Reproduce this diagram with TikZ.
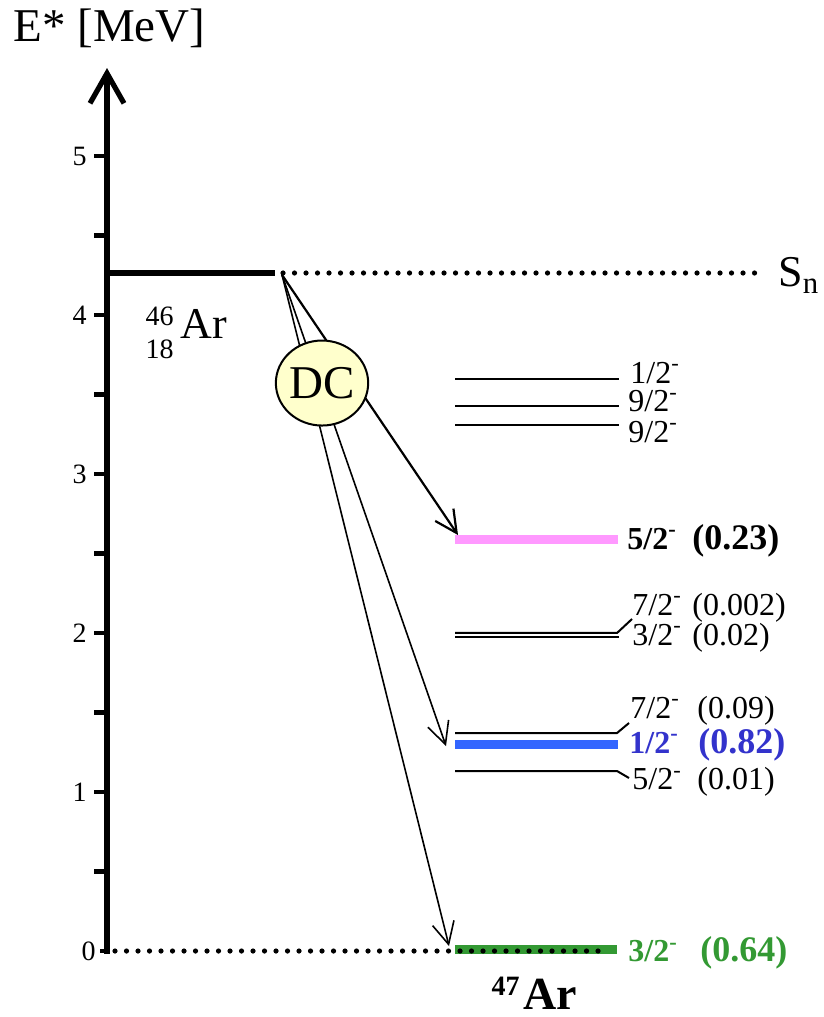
\documentclass[tikz,border=0pt]{standalone}
\usepackage{fontspec}
\setmainfont{Liberation Serif}
\usetikzlibrary{arrows.meta,positioning,shapes.geometric}
\definecolor{levelPink}{RGB}{255, 153, 255}
\definecolor{levelBlue}{RGB}{51, 102, 255}
\definecolor{labelBlue}{RGB}{51, 51, 204}
\definecolor{levelGreen}{RGB}{51, 153, 51}
\definecolor{dcYellow}{RGB}{255, 255, 204}

\begin{document}
\begin{tikzpicture}[
  x=0.5pt, y=79.5pt,
  axis/.style={line width=2.6pt, -{Straight Barb[length=15pt,width=17pt]}},
  tick/.style={line width=2.4pt},
  ticklab/.style={anchor=east, inner sep=0pt, font=\fontsize{14}{17}\selectfont},
  level/.style={line width=1pt},
  fatlevel/.style={line width=4.5pt},
  dotline/.style={line width=2.6pt, line cap=round, dash pattern=on 0pt off 5.75pt},
  decay/.style={line width=0.8pt, -{Straight Barb[length=11pt,width=11pt]}},
  spin/.style={anchor=base west, inner sep=0pt, font=\fontsize{16}{19}\selectfont},
  boldspin/.style={spin, font=\fontsize{16}{19}\selectfont\bfseries},
  boldval/.style={spin, font=\fontsize{18}{21}\selectfont\bfseries},
  nuc/.style={anchor=base west, inner sep=0pt, font=\fontsize{22}{26}\selectfont},
  iso/.style={inner sep=0pt, font=\fontsize{14}{17}\selectfont},
  dc/.style={ellipse, draw, line width=1pt, fill=dcYellow, minimum width=46pt,
    minimum height=42.5pt, inner sep=0pt, font=\fontsize{23.5}{28}\selectfont}
]
  \useasboundingbox (0,-0.415) rectangle (823,5.981);

  % energy axis
  \node[nuc, font=\fontsize{23.5}{28}\selectfont] (title) at (13,5.717) {E* [MeV]};
  \draw[axis] (107,-0.016) -- (107,5.553);
  \foreach \e in {1,...,5} {
    \draw[tick] (94,\e) -- (107,\e);
    \node[ticklab] (tick\e) at (87,\e) {\e};
  }
  \foreach \e in {0.5,1.5,...,4.5}
    \draw[tick] (94,\e) -- (107,\e);
  \draw[tick] (100,0) -- (107,0);
  \node[ticklab] (tick0) at (96,0) {0};

  % 46Ar and neutron threshold
  \draw[line width=2.6pt] (107,4.264) -- (275,4.264);
  \draw[dotline] (283,4.264) -- (760,4.264);
  \node[nuc] (sn) at (778,4.176) {S\textsubscript{n}};
  \node[nuc] (ar46) at (180,3.855) {Ar};
  \node[iso, base left=3pt of ar46, yshift=6.5pt] (a46) {46};
  \node[iso, base left=3pt of ar46, yshift=-10pt] (z18) {18};

  % 47Ar levels
  \draw[level] (455,3.597) -- (619,3.597);
  \draw[level] (455,3.428) -- (619,3.428);
  \draw[level] (455,3.308) -- (619,3.308);
  \draw[fatlevel, levelPink] (455,2.591) -- (618,2.591);
  \draw[level] (455,2.000) -- (617,2.000) -- (632,2.088);
  \draw[level] (455,1.975) -- (619,1.975);
  \draw[level] (455,1.371) -- (617,1.371) -- (629,1.434);
  \draw[fatlevel, levelBlue] (455,1.296) -- (618,1.296);
  \draw[level] (455,1.132) -- (617,1.132) -- (629,1.088);
  \draw[fatlevel, levelGreen] (455,0.008) -- (617,0.008);
  \draw[dotline] (115,0) -- (603,0);

  \node[spin] (s12c) at (630,3.572) {1/2\textsuperscript{-}};
  \node[spin] (s92b) at (628,3.390) {9/2\textsuperscript{-}};
  \node[spin] (s92a) at (628,3.201) {9/2\textsuperscript{-}};
  \node[boldspin] (s52b) at (627,2.525) {5/2\textsuperscript{-}};
  \node[boldval] (v52b) at (692,2.525) {(0.23)};
  \node[spin] (s72b) at (632,2.113) {7/2\textsuperscript{-}};
  \node[spin] (v72b) at (692,2.113) {(0.002)};
  \node[spin] (s32b) at (632,1.922) {3/2\textsuperscript{-}};
  \node[spin] (v32b) at (692,1.922) {(0.02)};
  \node[spin] (s72a) at (630,1.465) {7/2\textsuperscript{-}};
  \node[spin] (v72a) at (697,1.465) {(0.09)};
  \node[boldspin, labelBlue] (s12b) at (629,1.245) {1/2\textsuperscript{-}};
  \node[boldval, labelBlue] (v12b) at (698,1.245) {(0.82)};
  \node[spin] (s52a) at (632,1.013) {5/2\textsuperscript{-}};
  \node[spin] (v52a) at (697,1.013) {(0.01)};
  \node[boldspin, levelGreen] (s32a) at (628,-0.069) {3/2\textsuperscript{-}};
  \node[boldval, levelGreen] (v32a) at (700,-0.069) {(0.64)};
  \node[nuc, font=\fontsize{23}{27}\selectfont\bfseries] (ar47) at (523,-0.365) {Ar};
  \node[iso, font=\fontsize{14}{17}\selectfont\bfseries, base left=1.5pt of ar47, yshift=7pt] (a47) {47};

  % direct capture
  \coordinate (src) at (282,4.252);
  \coordinate (t52) at (458,2.616);
  \coordinate (t12) at (446,1.289);
  \coordinate (t32) at (449,0.031);
  \draw[decay, line width=1.1pt] (src) -- (t52);
  \draw[decay] (src) -- (t12);
  \draw[decay] (src) -- (t32);
  \node[dc] (dc) at (322,3.572) {DC};
\end{tikzpicture}
\end{document}
